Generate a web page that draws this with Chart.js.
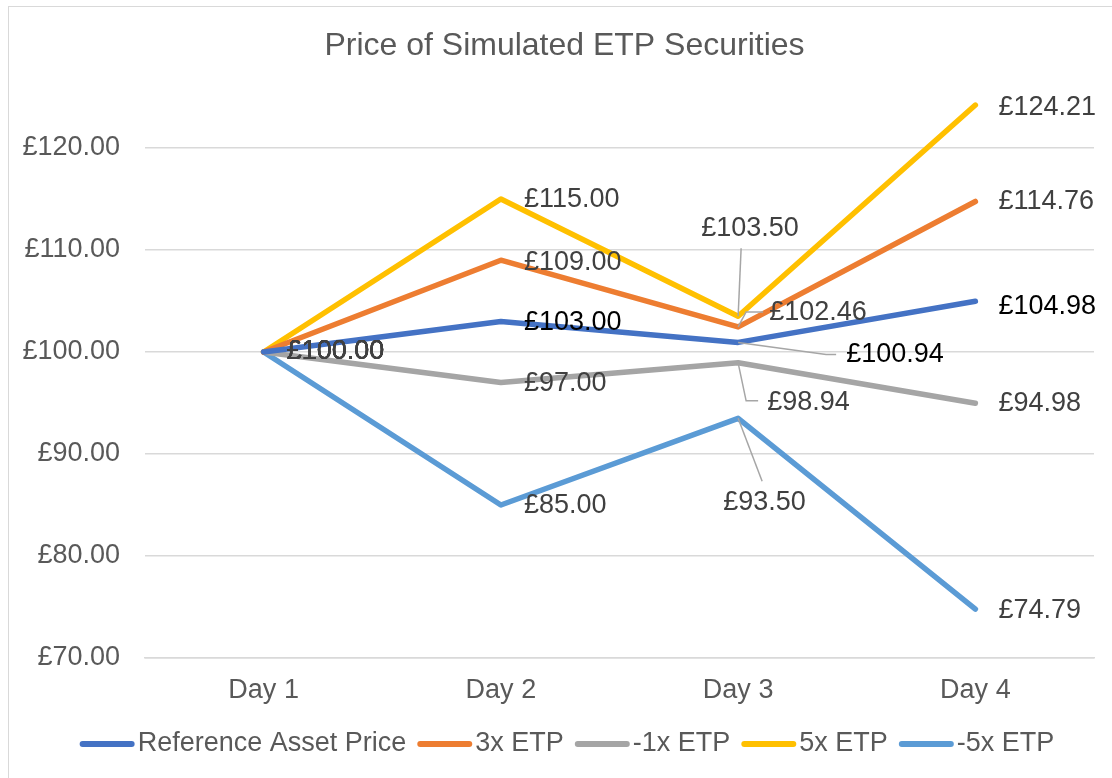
<!DOCTYPE html>
<html>
<head>
<meta charset="utf-8">
<script src="https://cdn.jsdelivr.net/npm/chart.js@4.4.1/dist/chart.umd.min.js"></script>
<style>
  html, body { margin: 0; padding: 0; background: #fff; }
  #wrap { position: absolute; left: 8px; top: 6px; width: 1120px; height: 790px;
          border: 1px solid #d9d9d9; box-sizing: border-box; }
  #cv { position: absolute; left: 0; top: 0; }
</style>
</head>
<body>
<div id="wrap"></div>
<canvas id="cv" width="1112" height="778"></canvas>
<script>
const days = ['Day 1', 'Day 2', 'Day 3', 'Day 4'];
const refPrice = [100, 103, 100.94, 104.98];
const etp3x = [100, 109, 102.46, 114.76];
const etpMinus1x = [100, 97, 98.94, 94.98];
const etp5x = [100, 115, 103.5, 124.21];
const etpMinus5x = [100, 85, 93.5, 74.79];
const yTicks = [70, 80, 90, 100, 110, 120];
const chartTitle = 'Price of Simulated ETP Securities';

const FONT = '"Liberation Sans", Arial, sans-serif';

// label placement per series / per day: [dx, dy, leader points]
const labelPos = [
  [[23, 0], [23, 1], [108, 12, [[88, 12], [98, 12]]], [23, 5]],
  [[23, 0], [23, 2], [31, -14, [[8, -15], [25, -15]]], [23, 0]],
  [[23, 0], [23, 1], [29, 40, [[8, 38], [20, 38]]], [23, 0]],
  [[23, 0], [23, 1], [-37, -88, [[3, -68]]], [23, 2]],
  [[23, 0], [23, 1], [-15, 84, [[24, 63]]], [23, 1]]
];
const labelColors = ['#000000', '#404040', '#404040', '#404040', '#404040'];

const fmt = v => '£' + v.toFixed(2);

const dataLabels = {
  id: 'dataLabels',
  afterDatasetsDraw(chart) {
    const ctx = chart.ctx;
    ctx.save();
    ctx.font = '27px ' + FONT;
    ctx.textAlign = 'left';
    ctx.textBaseline = 'middle';
    chart.data.datasets.forEach((ds, di) => {
      const meta = chart.getDatasetMeta(di);
      meta.data.forEach((pt, i) => {
        const p = labelPos[di][i];
        if (p[2]) {
          ctx.strokeStyle = '#a6a6a6';
          ctx.lineWidth = 1.5;
          ctx.beginPath();
          ctx.moveTo(pt.x, pt.y);
          p[2].forEach(q => ctx.lineTo(pt.x + q[0], pt.y + q[1]));
          ctx.stroke();
        }
        ctx.fillStyle = labelColors[di];
        ctx.fillText(fmt(ds.data[i]), pt.x + p[0], pt.y + p[1]);
      });
    });
    ctx.restore();
  }
};

// title centred on the whole chart box (not the padded area), excel-style legend
const frame = {
  id: 'frame',
  afterDraw(chart) {
    const ctx = chart.ctx;
    ctx.save();
    ctx.font = '32px ' + FONT;
    ctx.fillStyle = '#595959';
    ctx.textAlign = 'center';
    ctx.textBaseline = 'middle';
    ctx.fillText(chartTitle, 564.5, 46);

    const sw = 55, gap = 3, itemGap = 11, y = 744;
    ctx.font = '27px ' + FONT;
    ctx.textAlign = 'left';
    const items = chart.data.datasets.map(ds => ({
      text: ds.label, color: ds.borderColor,
      w: sw + gap + ctx.measureText(ds.label).width
    }));
    const total = items.reduce((a, it) => a + it.w, 0) + itemGap * (items.length - 1);
    let x = (chart.width - total) / 2 + 11;
    items.forEach(it => {
      ctx.strokeStyle = it.color;
      ctx.lineWidth = 6;
      ctx.lineCap = 'round';
      ctx.beginPath();
      ctx.moveTo(x + 3, y);
      ctx.lineTo(x + sw - 3, y);
      ctx.stroke();
      ctx.fillStyle = '#595959';
      ctx.fillText(it.text, x + sw + gap, y);
      x += it.w + itemGap;
    });
    ctx.restore();
  }
};

const mk = (label, data, color) => ({
  label, data,
  borderColor: color, backgroundColor: color,
  borderWidth: 5.5, pointRadius: 0, tension: 0,
  borderCapStyle: 'round', borderJoinStyle: 'round'
});

new Chart(document.getElementById('cv'), {
  type: 'line',
  data: {
    labels: days,
    datasets: [
      mk('Reference Asset Price', refPrice, '#4472C4'),
      mk('3x ETP', etp3x, '#ED7D31'),
      mk('-1x ETP', etpMinus1x, '#A5A5A5'),
      mk('5x ETP', etp5x, '#FFC000'),
      mk('-5x ETP', etpMinus5x, '#5B9BD5')
    ]
  },
  options: {
    responsive: false,
    animation: false,
    layout: { padding: { left: 8, right: 18, top: 97, bottom: 40 } },
    plugins: {
      title: { display: false },
      legend: { display: false },
      tooltip: { enabled: false }
    },
    scales: {
      x: {
        offset: true,
        grid: { display: false, drawTicks: false },
        border: { color: '#d9d9d9', width: 1.5 },
        ticks: {
          color: '#595959', padding: 16,
          font: { size: 27, family: FONT }
        },
        afterFit(s) { s.height = 80; }
      },
      y: {
        min: 70, max: 125,
        grid: { color: '#d9d9d9', lineWidth: 1.5, drawTicks: false },
        border: { display: false },
        afterBuildTicks(s) { s.ticks = yTicks.map(v => ({ value: v })); },
        ticks: {
          color: '#595959', padding: 25,
          font: { size: 27, family: FONT },
          callback: v => fmt(v)
        },
        afterFit(s) { s.width = 137; }
      }
    }
  },
  plugins: [dataLabels, frame]
});
</script>
</body>
</html>
